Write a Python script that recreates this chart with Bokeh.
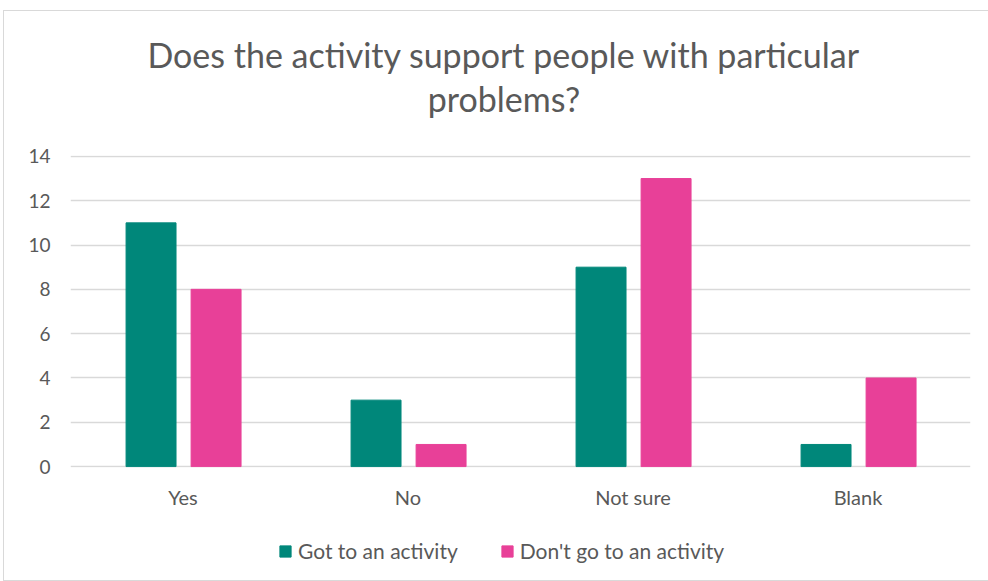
from bokeh.plotting import figure
from bokeh.layouts import column
from bokeh.models import ColumnDataSource, FactorRange, FixedTicker, Legend, LegendItem, Label, Range1d
from bokeh.transform import dodge
from bokeh.embed import file_html
from bokeh.resources import INLINE

categories = ["Yes", "No", "Not sure", "Blank"]
got_to_activity = [11, 3, 9, 1]
dont_go_activity = [8, 1, 13, 4]
series_names = ["Got to an activity", "Don't go to an activity"]
y_ticks = [0, 2, 4, 6, 8, 10, 12, 14]
title_lines = ["Does the activity support people with particular", "problems?"]

TEAL = "#00877A"
PINK = "#E84098"
TXT = "#595959"
FONT = "Lato"

src = ColumnDataSource(dict(cat=categories, a=got_to_activity, b=dont_go_activity))

# ---- title strip ----
p0 = figure(width=984, height=125, output_backend="svg", toolbar_location=None,
            x_range=Range1d(0, 984), y_range=Range1d(0, 125),
            x_axis_location=None, y_axis_location=None,
            min_border_left=0, min_border_right=0, min_border_top=0, min_border_bottom=0)
p0.grid.visible = False
p0.outline_line_color = None
for txt, ypos in zip(title_lines, [82, 38]):
    p0.add_layout(Label(x=474, y=ypos, text=txt, text_align="center", text_baseline="middle",
                        text_font=FONT, text_font_size="34px", text_color=TXT))

# ---- main chart ----
p = figure(x_range=FactorRange(*categories, range_padding=0), y_range=Range1d(-0.04, 14.04),
           width=984, height=395, output_backend="svg", toolbar_location=None,
           min_border_left=66, min_border_right=18, min_border_top=19, min_border_bottom=64)

r1 = p.vbar(x=dodge("cat", -0.142, range=p.x_range), top="a", width=0.222, source=src,
            fill_color=TEAL, line_color=TEAL)
r2 = p.vbar(x=dodge("cat", 0.147, range=p.x_range), top="b", width=0.222, source=src,
            fill_color=PINK, line_color=PINK)

p.outline_line_color = None
p.xgrid.grid_line_color = None
p.ygrid.grid_line_color = "#d9d9d9"
p.ygrid.grid_line_width = 1.5
p.yaxis.ticker = FixedTicker(ticks=y_ticks)
for ax in (p.xaxis[0], p.yaxis[0]):
    ax.axis_line_color = None
    ax.major_tick_line_color = None
    ax.minor_tick_line_color = None
    ax.major_label_text_font = FONT
    ax.major_label_text_font_size = "19px"
    ax.major_label_text_color = TXT
p.xaxis.major_label_text_font_size = "20px"
p.yaxis.major_label_standoff = 14
p.xaxis.major_label_standoff = 11

# ---- legend strip ----
p2 = figure(width=984, height=49, output_backend="svg", toolbar_location=None,
            x_range=Range1d(0, 1), y_range=Range1d(0, 1),
            x_axis_location=None, y_axis_location=None,
            min_border_left=0, min_border_right=0, min_border_top=0, min_border_bottom=0)
p2.grid.visible = False
p2.outline_line_color = None
e1 = p2.vbar(x=[-5], top=[-5], width=0.1, fill_color=TEAL, line_color=TEAL)
e2 = p2.vbar(x=[-5], top=[-5], width=0.1, fill_color=PINK, line_color=PINK)
legend = Legend(items=[LegendItem(label=series_names[0], renderers=[e1]),
                       LegendItem(label=series_names[1], renderers=[e2])],
                orientation="horizontal", location=(208, 17),
                label_text_font=FONT, label_text_font_size="21px", label_text_color=TXT,
                glyph_width=14, glyph_height=14, spacing=42, border_line_color=None,
                background_fill_alpha=0, margin=0, padding=4, label_standoff=6)
p2.add_layout(legend)

layout = column(p0, p, p2, spacing=0,
                styles={"border": "1px solid #d9d9d9", "margin-left": "3px", "margin-top": "10px"})
open("out.html", "w").write(file_html(layout, INLINE))
